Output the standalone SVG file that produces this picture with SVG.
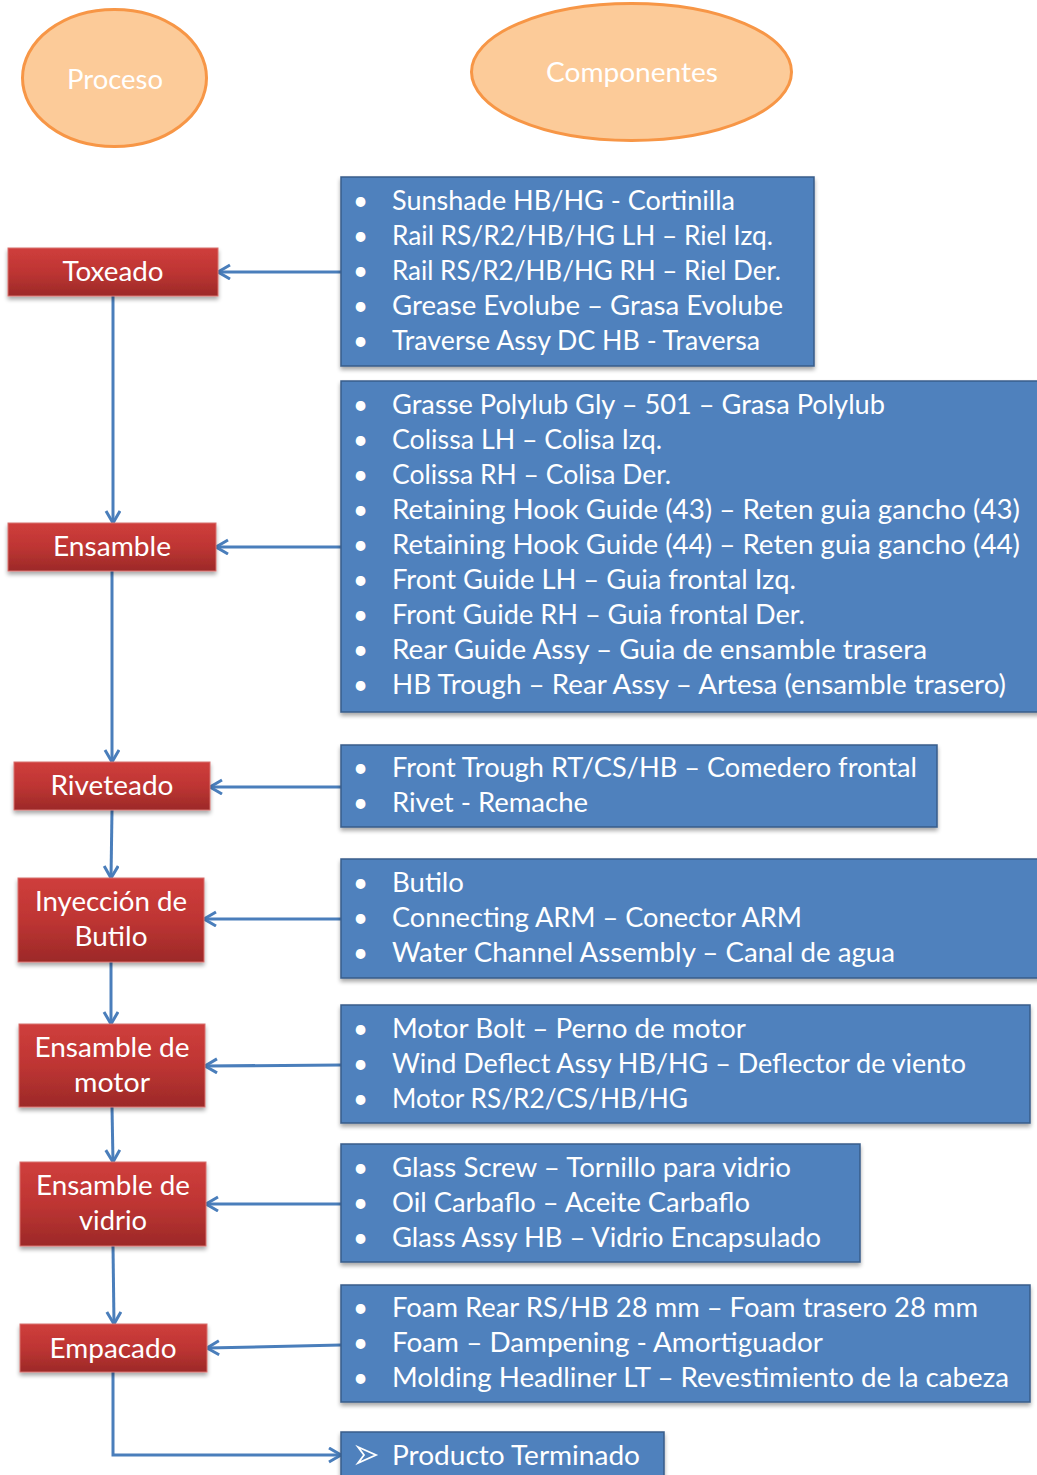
<svg xmlns="http://www.w3.org/2000/svg" width="1037" height="1475" viewBox="0 0 1037 1475">
<defs>
<linearGradient id="red" x1="0" y1="0" x2="0" y2="1">
<stop offset="0" stop-color="#CF3E3C"/>
<stop offset="0.5" stop-color="#BE3533"/>
<stop offset="1" stop-color="#9C2928"/>
</linearGradient>
<filter id="sh" x="-10%" y="-10%" width="130%" height="140%">
<feGaussianBlur in="SourceAlpha" stdDeviation="2"/>
<feOffset dx="0" dy="3" result="b"/>
<feComponentTransfer><feFuncA type="linear" slope="0.35"/></feComponentTransfer>
<feMerge><feMergeNode/><feMergeNode in="SourceGraphic"/></feMerge>
</filter>
<marker id="arr" markerUnits="userSpaceOnUse" markerWidth="16" markerHeight="18" refX="13" refY="8" orient="auto">
<path d="M1,1 L13,8 L1,15" fill="none" stroke="#4A7EBB" stroke-width="3"/>
</marker>
</defs>
<style>
.t{font-family:Lato,"Open Sans","Liberation Sans",sans-serif;font-size:26px;fill:#fff}
.c{text-anchor:middle}
.ell{fill:#FCCB99;stroke:#F79646;stroke-width:3}
.proc{fill:url(#red);stroke:#D8726E;stroke-width:1;filter:url(#sh)}
.comp{fill:#4F81BD;stroke:#385D8A;stroke-width:1.5;filter:url(#sh)}
.ln{fill:none;stroke:#4A7EBB;stroke-width:3}
.ah{marker-end:url(#arr)}
</style>
<rect width="1037" height="1475" fill="#fff"/>

<g id="hdr-proceso">
<ellipse class="ell" cx="114.5" cy="78" rx="92" ry="68.5"/>
<text class="t c" x="115" y="89" textLength="96" lengthAdjust="spacingAndGlyphs">Proceso</text>
</g>
<g id="hdr-componentes">
<ellipse class="ell" cx="631.5" cy="72" rx="160" ry="68.5"/>
<text class="t c" x="632" y="82" textLength="172" lengthAdjust="spacingAndGlyphs">Componentes</text>
</g>

<g id="connectors">
<path class="ln ah" d="M341,272 H218"/>
<path class="ln ah" d="M113,296 V523"/>
<path class="ln ah" d="M341,547 H216"/>
<path class="ln ah" d="M112,571 V762"/>
<path class="ln ah" d="M341,787 H210"/>
<path class="ln ah" d="M112,810 L111,878"/>
<path class="ln ah" d="M341,919 H204"/>
<path class="ln ah" d="M111,962 V1024"/>
<path class="ln ah" d="M341,1065 L205,1066"/>
<path class="ln ah" d="M112,1107 L113,1162"/>
<path class="ln ah" d="M341,1204 H206"/>
<path class="ln ah" d="M113,1246 L114,1324"/>
<path class="ln ah" d="M341,1345 L207,1348"/>
<path class="ln ah" d="M113,1372 V1455 H341"/>
</g>

<g id="p-toxeado">
<rect class="proc" x="8" y="248" width="210" height="48"/>
<text class="t c" x="113" y="281" textLength="101" lengthAdjust="spacingAndGlyphs">Toxeado</text>
</g>
<g id="p-ensamble">
<rect class="proc" x="8" y="523" width="208" height="48"/>
<text class="t c" x="112" y="556" textLength="118" lengthAdjust="spacingAndGlyphs">Ensamble</text>
</g>
<g id="p-riveteado">
<rect class="proc" x="14" y="762" width="196" height="48"/>
<text class="t c" x="112" y="795" textLength="123" lengthAdjust="spacingAndGlyphs">Riveteado</text>
</g>
<g id="p-inyeccion">
<rect class="proc" x="18" y="878" width="186" height="84"/>
<text class="t c" x="111" y="911" textLength="152" lengthAdjust="spacingAndGlyphs">Inyección de</text>
<text class="t c" x="111" y="946" textLength="73" lengthAdjust="spacingAndGlyphs">Butilo</text>
</g>
<g id="p-motor">
<rect class="proc" x="19" y="1024" width="186" height="83"/>
<text class="t c" x="112" y="1057" textLength="155" lengthAdjust="spacingAndGlyphs">Ensamble de</text>
<text class="t c" x="112" y="1092" textLength="76" lengthAdjust="spacingAndGlyphs">motor</text>
</g>
<g id="p-vidrio">
<rect class="proc" x="20" y="1162" width="186" height="84"/>
<text class="t c" x="113" y="1195" textLength="154" lengthAdjust="spacingAndGlyphs">Ensamble de</text>
<text class="t c" x="113" y="1230" textLength="68" lengthAdjust="spacingAndGlyphs">vidrio</text>
</g>
<g id="p-empacado">
<rect class="proc" x="20" y="1324" width="187" height="48"/>
<text class="t c" x="113" y="1358" textLength="127" lengthAdjust="spacingAndGlyphs">Empacado</text>
</g>

<g id="c-toxeado">
<rect class="comp" x="341" y="177" width="473" height="189"/>
<text class="t" x="353" y="210">•</text><text class="t" x="392" y="210" textLength="343" lengthAdjust="spacingAndGlyphs">Sunshade HB/HG - Cortinilla</text>
<text class="t" x="353" y="245">•</text><text class="t" x="392" y="245" textLength="381" lengthAdjust="spacingAndGlyphs">Rail RS/R2/HB/HG LH – Riel Izq.</text>
<text class="t" x="353" y="280">•</text><text class="t" x="392" y="280" textLength="389" lengthAdjust="spacingAndGlyphs">Rail RS/R2/HB/HG RH – Riel Der.</text>
<text class="t" x="353" y="315">•</text><text class="t" x="392" y="315" textLength="391" lengthAdjust="spacingAndGlyphs">Grease Evolube – Grasa Evolube</text>
<text class="t" x="353" y="350">•</text><text class="t" x="392" y="350" textLength="368" lengthAdjust="spacingAndGlyphs">Traverse Assy DC HB - Traversa</text>
</g>
<g id="c-ensamble">
<rect class="comp" x="341" y="381" width="700" height="331"/>
<text class="t" x="353" y="414">•</text><text class="t" x="392" y="414" textLength="493" lengthAdjust="spacingAndGlyphs">Grasse Polylub Gly – 501 – Grasa Polylub</text>
<text class="t" x="353" y="449">•</text><text class="t" x="392" y="449" textLength="270" lengthAdjust="spacingAndGlyphs">Colissa LH – Colisa Izq.</text>
<text class="t" x="353" y="484">•</text><text class="t" x="392" y="484" textLength="279" lengthAdjust="spacingAndGlyphs">Colissa RH – Colisa Der.</text>
<text class="t" x="353" y="519">•</text><text class="t" x="392" y="519" textLength="628" lengthAdjust="spacingAndGlyphs">Retaining Hook Guide (43) – Reten guia gancho (43)</text>
<text class="t" x="353" y="554">•</text><text class="t" x="392" y="554" textLength="628" lengthAdjust="spacingAndGlyphs">Retaining Hook Guide (44) – Reten guia gancho (44)</text>
<text class="t" x="353" y="589">•</text><text class="t" x="392" y="589" textLength="404" lengthAdjust="spacingAndGlyphs">Front Guide LH – Guia frontal Izq.</text>
<text class="t" x="353" y="624">•</text><text class="t" x="392" y="624" textLength="413" lengthAdjust="spacingAndGlyphs">Front Guide RH – Guia frontal Der.</text>
<text class="t" x="353" y="659">•</text><text class="t" x="392" y="659" textLength="535" lengthAdjust="spacingAndGlyphs">Rear Guide Assy – Guia de ensamble trasera</text>
<text class="t" x="353" y="694">•</text><text class="t" x="392" y="694" textLength="614" lengthAdjust="spacingAndGlyphs">HB Trough – Rear Assy – Artesa (ensamble trasero)</text>
</g>
<g id="c-riveteado">
<rect class="comp" x="341" y="745" width="596" height="82"/>
<text class="t" x="353" y="777">•</text><text class="t" x="392" y="777" textLength="525" lengthAdjust="spacingAndGlyphs">Front Trough RT/CS/HB – Comedero frontal</text>
<text class="t" x="353" y="812">•</text><text class="t" x="392" y="812" textLength="196" lengthAdjust="spacingAndGlyphs">Rivet - Remache</text>
</g>
<g id="c-inyeccion">
<rect class="comp" x="341" y="859" width="700" height="119"/>
<text class="t" x="353" y="892">•</text><text class="t" x="392" y="892" textLength="72" lengthAdjust="spacingAndGlyphs">Butilo</text>
<text class="t" x="353" y="927">•</text><text class="t" x="392" y="927" textLength="410" lengthAdjust="spacingAndGlyphs">Connecting ARM – Conector ARM</text>
<text class="t" x="353" y="962">•</text><text class="t" x="392" y="962" textLength="503" lengthAdjust="spacingAndGlyphs">Water Channel Assembly – Canal de agua</text>
</g>
<g id="c-motor">
<rect class="comp" x="341" y="1005" width="689" height="118"/>
<text class="t" x="353" y="1038">•</text><text class="t" x="392" y="1038" textLength="354" lengthAdjust="spacingAndGlyphs">Motor Bolt – Perno de motor</text>
<text class="t" x="353" y="1073">•</text><text class="t" x="392" y="1073" textLength="574" lengthAdjust="spacingAndGlyphs">Wind Deflect Assy HB/HG – Deflector de viento</text>
<text class="t" x="353" y="1108">•</text><text class="t" x="392" y="1108" textLength="296" lengthAdjust="spacingAndGlyphs">Motor RS/R2/CS/HB/HG</text>
</g>
<g id="c-vidrio">
<rect class="comp" x="341" y="1144" width="519" height="118"/>
<text class="t" x="353" y="1177">•</text><text class="t" x="392" y="1177" textLength="399" lengthAdjust="spacingAndGlyphs">Glass Screw – Tornillo para vidrio</text>
<text class="t" x="353" y="1212">•</text><text class="t" x="392" y="1212" textLength="358" lengthAdjust="spacingAndGlyphs">Oil Carbaflo – Aceite Carbaflo</text>
<text class="t" x="353" y="1247">•</text><text class="t" x="392" y="1247" textLength="429" lengthAdjust="spacingAndGlyphs">Glass Assy HB – Vidrio Encapsulado</text>
</g>
<g id="c-empacado">
<rect class="comp" x="341" y="1285" width="689" height="117"/>
<text class="t" x="353" y="1317">•</text><text class="t" x="392" y="1317" textLength="586" lengthAdjust="spacingAndGlyphs">Foam Rear RS/HB 28 mm – Foam trasero 28 mm</text>
<text class="t" x="353" y="1352">•</text><text class="t" x="392" y="1352" textLength="431" lengthAdjust="spacingAndGlyphs">Foam – Dampening - Amortiguador</text>
<text class="t" x="353" y="1387">•</text><text class="t" x="392" y="1387" textLength="617" lengthAdjust="spacingAndGlyphs">Molding Headliner LT – Revestimiento de la cabeza</text>
</g>
<g id="c-producto">
<rect class="comp" x="341" y="1432" width="323" height="50"/>
<path d="M358,1447 L376,1455 L358,1463 L364,1455 Z" fill="none" stroke="#fff" stroke-width="1.8" stroke-linejoin="miter"/>
<text class="t" x="392" y="1465" textLength="248" lengthAdjust="spacingAndGlyphs">Producto Terminado</text>
</g>
</svg>
